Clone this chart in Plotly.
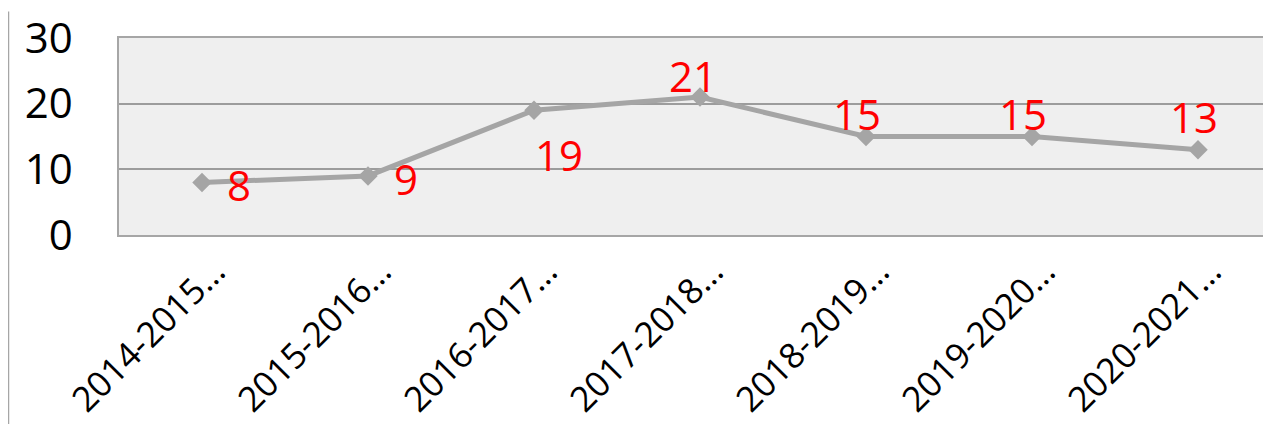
import plotly.graph_objects as go

categories = ["2014-2015…", "2015-2016…", "2016-2017…", "2017-2018…",
              "2018-2019…", "2019-2020…", "2020-2021…"]
values = [8, 9, 19, 21, 15, 15, 13]
y_ticks = [0, 10, 20, 30]

# label placement styles (pixel offsets of each data label from its point)
label_dx = [37, 38, 25, -7, -9, -9, -4]
label_dy = [-2, -3, -44, 22, 23, 23, 33]

PAGE = 8  # default body margin of the html page
W, H = 1271 - PAGE, 427 - PAGE
ML, MR, MT, MB = 119 - PAGE, 0, 35 - PAGE, 192
step = 166  # pixel spacing of categories
plot_w = W - ML - MR
plot_h = H - MT - MB

x_idx = list(range(len(categories)))

fig = go.Figure()
fig.add_trace(go.Scatter(
    x=x_idx, y=values, mode="lines+markers",
    line=dict(color="#a5a5a5", width=5),
    marker=dict(symbol="diamond", size=15, color="#a5a5a5"),
    hoverinfo="skip", showlegend=False, cliponaxis=False,
))

annotations = []
for i, v in enumerate(values):
    annotations.append(dict(
        x=i, y=v, xref="x", yref="y", text=str(v), showarrow=False,
        xanchor="center", yanchor="middle",
        xshift=label_dx[i], yshift=label_dy[i],
        font=dict(family="Open Sans", size=42, color="#ff0000"),
    ))

fig.update_layout(
    width=W, height=H,
    margin=dict(l=ML, r=MR, t=MT, b=MB),
    paper_bgcolor="white", plot_bgcolor="#efefef",
    annotations=annotations,
    shapes=[dict(type="line", xref="paper", yref="paper",
                 x0=(8.5 - 119) / plot_w, x1=(8.5 - 119) / plot_w,
                 y0=-MB / plot_h, y1=1 + MT / plot_h,
                 line=dict(color="#a6a6a6", width=1.5))],
)
fig.update_xaxes(
    range=[-0.5, -0.5 + plot_w / step],
    tickmode="array", tickvals=x_idx, ticktext=categories,
    tickangle=-45, tickfont=dict(family="Open Sans", size=35, color="black"),
    showgrid=False, zeroline=False,
    showline=True, mirror=True, linecolor="#a6a6a6", linewidth=1.5,
    ticks="", ticklabelshift=13, ticklabeloverflow="allow",
)
fig.update_yaxes(
    range=[0, 30.001], tickmode="array", tickvals=y_ticks,
    tickfont=dict(family="Open Sans", size=42, color="black"),
    showgrid=True, gridcolor="#9c9c9c", gridwidth=1.5,
    zeroline=False, showline=True, linecolor="#a6a6a6", linewidth=1.5,
    ticks="", ticklabelstandoff=36, ticklabeloverflow="allow",
)

fig.write_html("out.html")
